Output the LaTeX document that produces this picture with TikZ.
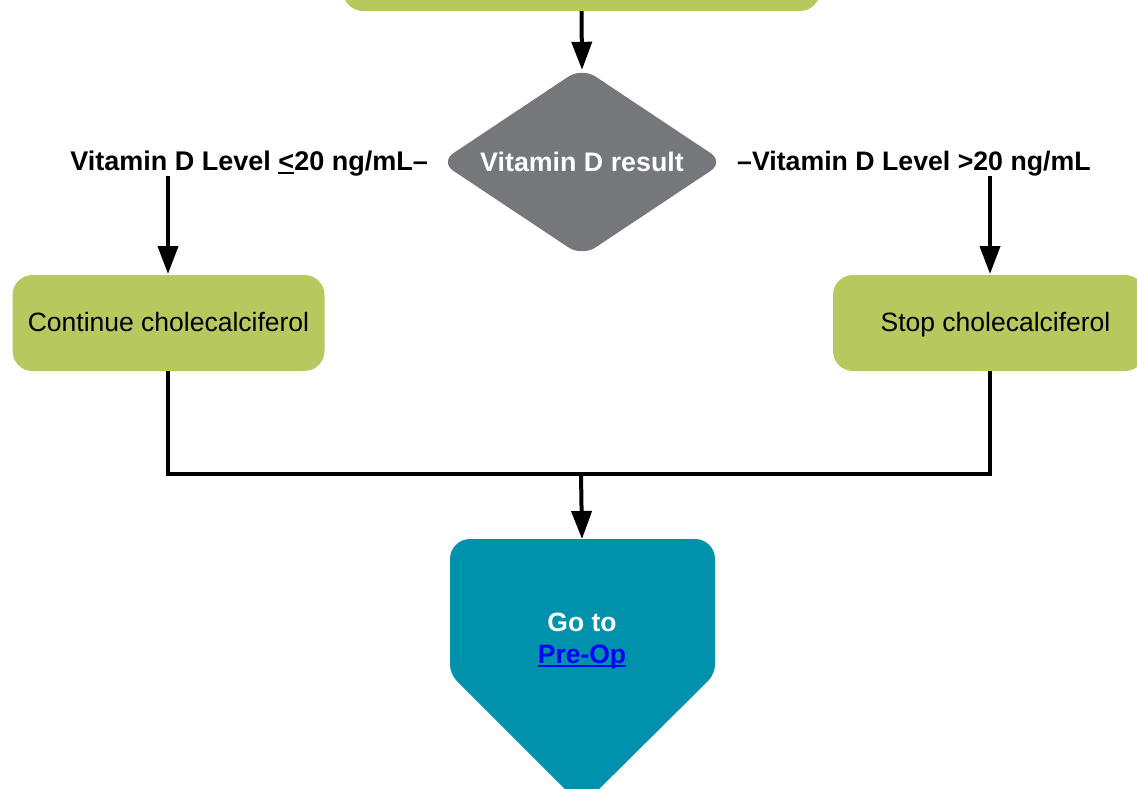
\documentclass[tikz,border=0pt]{standalone}
\usepackage{fontspec}
\setmainfont{Liberation Sans}
\usetikzlibrary{arrows.meta,shapes.geometric}
\definecolor{vgreen}{RGB}{183,201,94}
\definecolor{vgray}{RGB}{118,119,123}
\definecolor{vteal}{RGB}{0,146,173}
\definecolor{vlink}{RGB}{0,0,255}
\newlength\myulw
\newcommand{\thul}[2][2pt]{\settowidth{\myulw}{#2}\rlap{\rule[-3.5pt]{\myulw}{#1}}#2}
\begin{document}
\begin{tikzpicture}[x=1pt,y=-1pt,
  every node/.style={font=\fontsize{26.5}{32}\selectfont},
  greenbox/.style={fill=vgreen, rounded corners=20pt, minimum width=312pt, minimum height=96pt, inner sep=0pt, text height=20pt, text depth=4pt},
  decision/.style={diamond, fill=vgray, aspect=1.5, minimum width=284pt, minimum height=189pt, inner sep=0pt, rounded corners=16pt, text=white, font=\bfseries\fontsize{26.8}{32}\selectfont},
  lab/.style={font=\bfseries\fontsize{27}{32}\selectfont, inner sep=0pt},
  conn/.style={line width=4pt},
  arr/.style={conn, -{Triangle[width=20pt,length=28pt]}}
]
\useasboundingbox (0,0) rectangle (1137,789);
\clip (0,0) rectangle (1137,789);

% previous step (cut off at top)
\node[greenbox, minimum width=477pt, minimum height=80pt] (prev) at (581.5,-29) {};

% decision
\node[decision] (dec) at (582,162) {Vitamin D result};
\draw[arr, shorten >=-2.5pt] (prev.south) -- (dec.north);

% branch labels
\node[lab, anchor=base east] (lablo) at (428,170) {Vitamin D Level \thul{<}20 ng/mL–};
\node[lab, anchor=base west, font=\bfseries\fontsize{26.7}{32}\selectfont] (labhi) at (737,170) {–Vitamin D Level >20 ng/mL};

% outcome boxes
\node[greenbox] (cont) at (168.5,323) {Continue cholecalciferol};
\node[greenbox] (stop) at (989,323) {\hspace*{13pt}Stop cholecalciferol};

\coordinate (lt) at (168,275);
\coordinate (rt) at (990,275);
\draw[arr, shorten >=1pt] (lablo.south -| lt) -- (lt);
\draw[arr, shorten >=1pt] (labhi.south -| rt) -- (rt);

% merge
\coordinate (j) at (581,473.5);
\coordinate (lb) at (168,371);
\coordinate (rb) at (990,371);
\draw[conn, line join=miter] (lb) |- (j) -| (rb);

% go to pentagon
\coordinate (ptop) at (582,539);
\fill[vteal, rounded corners=9pt] (582,806) -- (450,674) [rounded corners=20pt] -- (450,539) -- (715,539) [rounded corners=9pt] -- (715,674) [sharp corners] -- cycle;
\draw[arr] (j) -- (ptop);
\node[anchor=base, font=\bfseries\fontsize{26.5}{32}\selectfont, text=white, inner sep=0pt] (goto) at (582,631.5) {Go to};
\node[anchor=base, font=\bfseries\fontsize{26.5}{32}\selectfont, text=vlink, inner sep=0pt] (preop) at (582,663.5) {\thul[2.5pt]{Pre-Op}};
\end{tikzpicture}
\end{document}
